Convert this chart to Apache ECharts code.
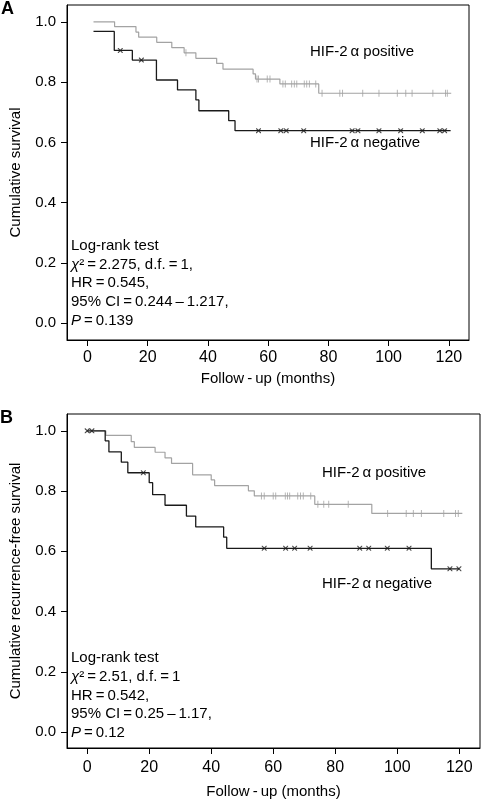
<!DOCTYPE html>
<html>
<head>
<meta charset="utf-8">
<script src="https://cdn.jsdelivr.net/npm/echarts@6/dist/echarts.min.js"></script>
<style>
html,body{margin:0;padding:0;background:#fff;}
#chart{width:482px;height:800px;}
</style>
</head>
<body>
<div id="chart"></div>
<script>
// ---------- Data ----------
const xTicks = [0, 20, 40, 60, 80, 100, 120];
const yTicks = [0, 0.2, 0.4, 0.6, 0.8, 1.0];

// Panel A: overall survival
const aPosTime = [2, 9, 16.1, 17, 23, 28, 32.1, 36, 42.9, 45, 55, 55.8, 63.9, 76.8, 120.8];
const aPosSurv = [1.0, 0.984, 0.966, 0.949, 0.932, 0.914, 0.897, 0.879, 0.862, 0.843, 0.827, 0.810, 0.794, 0.763, 0.763];
const aPosCensor = [32.7, 56.3, 56.8, 59.7, 60.6, 64.9, 65.7, 67.8, 68.7, 69.5, 72, 72.8, 73.7, 75.8, 77.9, 83.8, 84.7, 91.4, 96.8, 102.9, 105.7, 107.8, 114.7, 118.9, 119.5];

const aNegTime = [2, 8.9, 14.9, 22.9, 29.9, 36, 37, 46.9, 49, 120.6];
const aNegSurv = [0.968, 0.905, 0.873, 0.807, 0.774, 0.741, 0.705, 0.672, 0.639, 0.639];
const aNegCensor = [10.9, 17.9, 56.8, 64.2, 66, 71.8, 87.9, 89.8, 96.8, 104, 111.2, 117, 118.6];

// Panel B: recurrence-free survival
const bPosTime = [2, 6, 14.2, 15.2, 21.9, 25.1, 27.2, 34, 40, 41.1, 52, 53.9, 73.4, 91.8, 121];
const bPosSurv = [1.0, 0.985, 0.964, 0.945, 0.929, 0.910, 0.892, 0.854, 0.837, 0.818, 0.801, 0.784, 0.756, 0.726, 0.726];
const bPosCensor = [56.2, 57.1, 60, 60.8, 63.9, 64.6, 65.3, 67.9, 68.8, 69.7, 72.1, 74.4, 76.3, 77.9, 84.2, 96.9, 102.9, 105.2, 107.8, 115, 118.8, 119.7];

const bNegTime = [0, 5.8, 7, 11, 13.1, 20, 21.1, 25.1, 32, 35, 44, 45, 111, 120];
const bNegSurv = [1.0, 0.967, 0.930, 0.896, 0.861, 0.828, 0.788, 0.753, 0.717, 0.681, 0.647, 0.610, 0.542, 0.542];
const bNegCensor = [0, 1.5, 18.1, 57.1, 64, 66.9, 71.9, 87.9, 90.8, 96.8, 103.8, 117, 119.9];

const labelPos = 'HIF-2\u2009\u03B1 positive';
const labelNeg = 'HIF-2\u2009\u03B1 negative';
const yTitleA = 'Cumulative survival';
const yTitleB = 'Cumulative recurrence-free survival';
const xTitle = 'Follow\u2009-\u2009up (months)';
const statsA = ['Log-rank test', '{i|\u03C7}\u00B2\u2009=\u20092.275, d.f.\u2009=\u20091,', 'HR\u2009=\u20090.545,', '95% CI\u2009=\u20090.244\u2009\u2013\u20091.217,', '{i|P}\u2009=\u20090.139'];
const statsB = ['Log-rank test', '{i|\u03C7}\u00B2\u2009=\u20092.51, d.f.\u2009=\u20091', 'HR\u2009=\u20090.542,', '95% CI\u2009=\u20090.25\u2009\u2013\u20091.17,', '{i|P}\u2009=\u20090.12'];

// ---------- Helpers ----------
const FONT = '"Liberation Sans", Arial, Helvetica, sans-serif';
const GRAY = '#a3a3a3';
const BLACK = '#1a1a1a';
function zip(t, s) { return t.map((v, i) => [v, s[i]]); }
function survAt(t, s, x) { let v = s[0]; for (let i = 0; i < t.length; i++) if (t[i] <= x) v = s[i]; return v; }
function censorPts(t, s, c) { return c.map(x => [x, survAt(t, s, x)]); }
const XSYM = 'path://M0,0L1.6,0L5,3.4L8.4,0L10,0L10,1.6L6.6,5L10,8.4L10,10L8.4,10L5,6.6L1.6,10L0,10L0,8.4L3.4,5L0,1.6Z';

function makeX(grid, min, max, gap, margin) {
  return {
    gridIndex: grid, type: 'value', min: min, max: max,
    axisLine: { show: true, onZero: false, lineStyle: { color: '#000', width: 1 } },
    axisTick: { show: true, length: 6, customValues: xTicks, lineStyle: { color: '#000' } },
    axisLabel: { customValues: xTicks, fontSize: 16, color: '#000', fontFamily: FONT, margin: margin },
    splitLine: { show: false },
    name: xTitle, nameLocation: 'middle', nameGap: gap,
    nameTextStyle: { fontSize: 15, color: '#000', fontFamily: FONT }
  };
}
function makeY(grid, min, max, title) {
  return {
    gridIndex: grid, type: 'value', min: min, max: max,
    axisLine: { show: true, onZero: false, lineStyle: { color: '#000', width: 1 } },
    axisTick: { show: true, length: 6, customValues: yTicks, lineStyle: { color: '#000' } },
    axisLabel: { customValues: yTicks, fontSize: 15, color: '#000', fontFamily: FONT, margin: 11,
      formatter: v => v.toFixed(1) },
    splitLine: { show: false },
    name: title, nameLocation: 'middle', nameGap: 44,
    nameTextStyle: { fontSize: 15, color: '#000', fontFamily: FONT }
  };
}
function lineSeries(xi, t, s, color, w) {
  return { type: 'line', xAxisIndex: xi, yAxisIndex: xi, step: 'end', data: zip(t, s),
    symbol: 'none', lineStyle: { color: color, width: w }, silent: true, animation: false, z: 3 };
}
function tickSeries(xi, t, s, c) {
  return { type: 'scatter', xAxisIndex: xi, yAxisIndex: xi, data: censorPts(t, s, c),
    symbol: 'rect', symbolSize: [1, 7], itemStyle: { color: GRAY }, silent: true, animation: false, z: 4 };
}
function crossSeries(xi, t, s, c) {
  return { type: 'scatter', xAxisIndex: xi, yAxisIndex: xi, data: censorPts(t, s, c),
    symbol: XSYM, symbolSize: 5, itemStyle: { color: BLACK }, silent: true, animation: false, z: 5 };
}
function txt(x, y, text, opts) {
  return Object.assign({ type: 'text', x: x, y: y, style: Object.assign({
    text: text, fill: '#000', fontSize: 15, fontFamily: FONT, verticalAlign: 'middle'
  }, opts || {}) });
}
function statBlock(x, y, lines) {
  return { type: 'text', x: x, y: y, style: {
    text: lines.join('\n'), fill: '#000', fontSize: 15, fontFamily: FONT, lineHeight: 18.6,
    verticalAlign: 'top',
    rich: { i: { fontStyle: 'italic', fontSize: 15, fontFamily: FONT, lineHeight: 18.6, fill: '#000' } }
  } };
}

const chart = echarts.init(document.getElementById('chart'), null, { renderer: 'canvas' });
chart.setOption({
  animation: false,
  backgroundColor: '#fff',
  grid: [
    { left: 57, top: 5, width: 412, height: 335, show: true, borderColor: '#000', borderWidth: 1, backgroundColor: 'transparent' },
    { left: 57, top: 414, width: 423, height: 334, show: true, borderColor: '#000', borderWidth: 1, backgroundColor: 'transparent' }
  ],
  xAxis: [ makeX(0, -6.8, 126.7, 31, 10), makeX(1, -6.52, 126.7, 36, 12) ],
  yAxis: [ makeY(0, -0.0554, 1.0557, yTitleA), makeY(1, -0.053, 1.056, yTitleB) ],
  series: [
    lineSeries(0, aPosTime, aPosSurv, GRAY, 1.2),
    tickSeries(0, aPosTime, aPosSurv, aPosCensor),
    lineSeries(0, aNegTime, aNegSurv, BLACK, 1.3),
    crossSeries(0, aNegTime, aNegSurv, aNegCensor),
    lineSeries(1, bPosTime, bPosSurv, GRAY, 1.2),
    tickSeries(1, bPosTime, bPosSurv, bPosCensor),
    lineSeries(1, bNegTime, bNegSurv, BLACK, 1.3),
    crossSeries(1, bNegTime, bNegSurv, bNegCensor)
  ],
  graphic: [
    txt(1, 9, 'A', { fontSize: 18, fontWeight: 'bold' }),
    txt(0, 418, 'B', { fontSize: 18, fontWeight: 'bold' }),
    txt(310, 52, labelPos),
    txt(310, 143, labelNeg),
    txt(322, 473, labelPos),
    txt(322, 584, labelNeg),
    statBlock(71, 236.7, statsA),
    statBlock(71, 649, statsB)
  ]
});
</script>
</body>
</html>
